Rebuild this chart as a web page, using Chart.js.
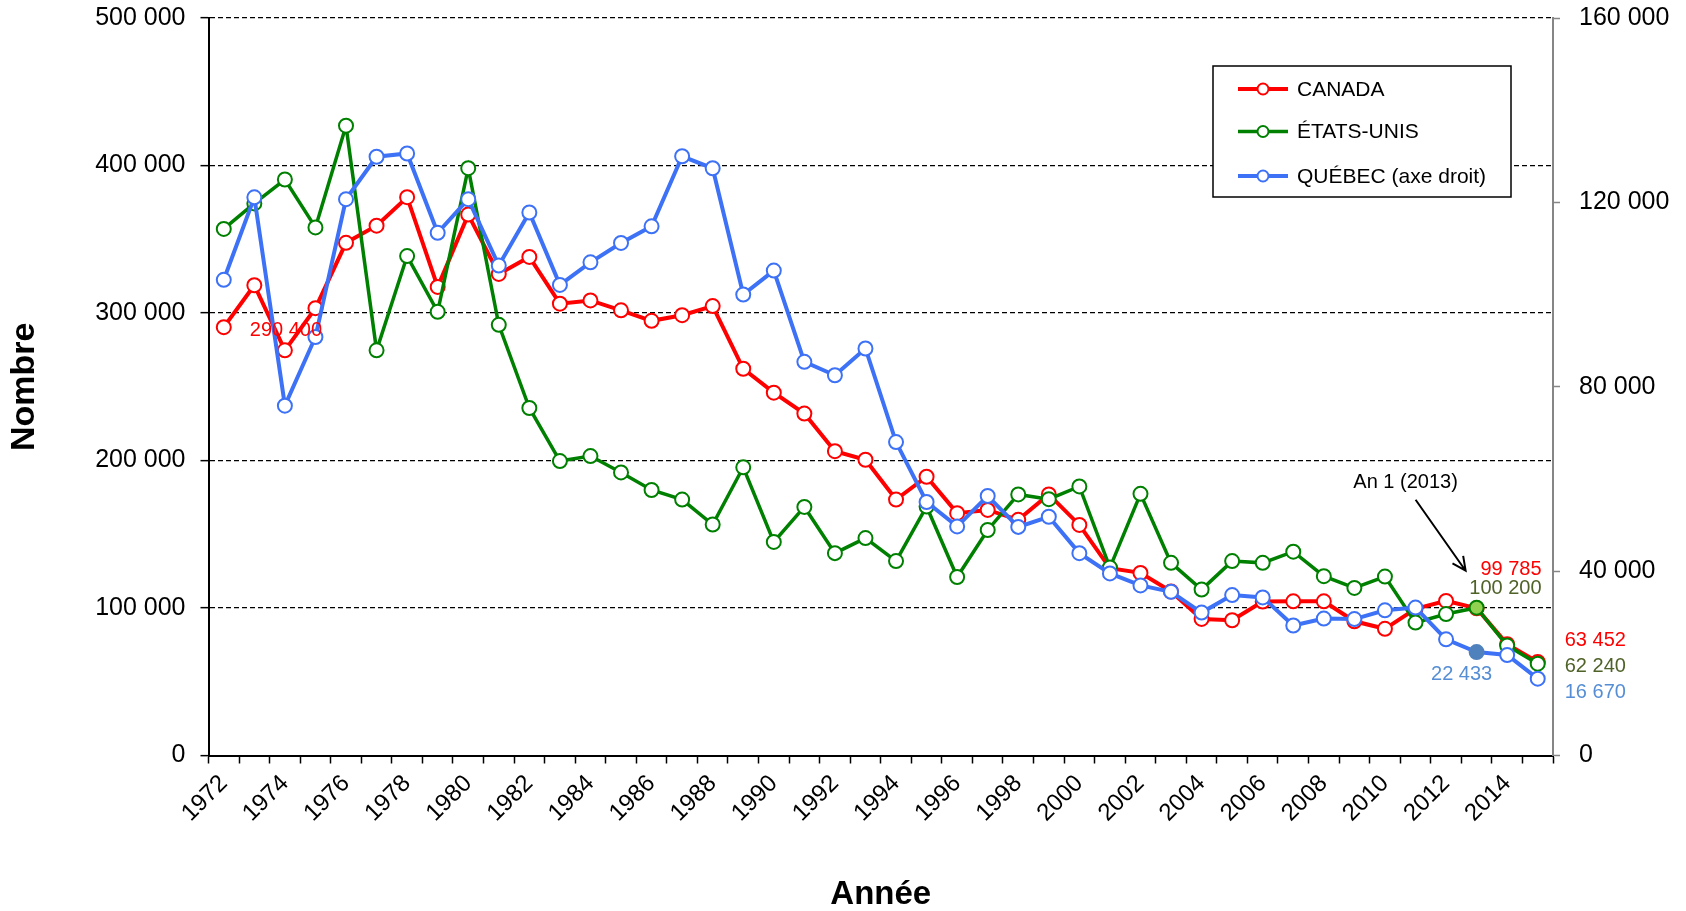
<!DOCTYPE html>
<html lang="fr">
<head>
<meta charset="utf-8">
<title>Canada, États-Unis, Québec</title>
<script src="https://cdn.jsdelivr.net/npm/chart.js@4.4.1/dist/chart.umd.min.js"></script>
<style>
  html, body { margin: 0; padding: 0; background: #fff; }
  #wrap { width: 1686px; height: 911px; position: relative; }
</style>
</head>
<body>
<div id="wrap"><canvas id="myChart"></canvas></div>
<script>
const years = ['1972','1973','1974','1975','1976','1977','1978','1979','1980','1981',
  '1982','1983','1984','1985','1986','1987','1988','1989','1990','1991',
  '1992','1993','1994','1995','1996','1997','1998','1999','2000','2001',
  '2002','2003','2004','2005','2006','2007','2008','2009','2010','2011',
  '2012','2013','2014','2015'];

const canada = [290400, 318800, 274700, 303300, 347600, 359200, 378500, 317700, 366700, 326500,
  338000, 306300, 308500, 301800, 294700, 298500, 304700, 262200, 246000, 231800,
  206300, 200500, 173500, 189000, 164300, 166500, 159800, 177000, 156300, 127000,
  123800, 111200, 92600, 91700, 104400, 104500, 104500, 91000, 85900, 99500,
  104800, 99785, 75500, 63452];

const etatsUnis = [357000, 374300, 390500, 358000, 427000, 274700, 338600, 300800, 398200, 292000,
  235600, 199600, 203000, 191900, 180000, 173500, 156600, 195400, 144800, 168500,
  137200, 147400, 131800, 168800, 121000, 152900, 177000, 173800, 182400, 127400,
  177400, 130600, 112500, 131800, 130600, 138200, 121600, 113600, 121300, 90100,
  95900, 100200, 74500, 62240];

// axe droit
const quebec = [103200, 121100, 75900, 90800, 120700, 129900, 130600, 113400, 120700, 106300,
  117800, 102100, 107000, 111200, 114800, 130000, 127400, 100000, 105200, 85400,
  82500, 88300, 68000, 55000, 49700, 56300, 49600, 51800, 43900, 39500,
  36900, 35500, 31000, 34800, 34300, 28200, 29700, 29600, 31500, 32100,
  25200, 22433, 21800, 16670];

const leftMax = 500000, leftStep = 100000;
const rightMax = 160000, rightStep = 40000;
const highlightYear = '2013';

const FONT = '"Liberation Sans", Arial, sans-serif';
const RED = '#ff0000', GREEN = '#008000', BLUE = '#3d72f7';
const OLIVE = '#4f6228', STEEL = '#558ed5';

Chart.defaults.font.family = FONT;
Chart.defaults.color = '#000';

const i13 = years.indexOf(highlightYear);
function fmt(v) {
  return String(Math.round(v)).replace(/\B(?=(\d{3})+(?!\d))/g, ' ');
}
function perPoint(normal, special) {
  return years.map((y, i) => i === i13 ? special : normal);
}

// legende + etiquettes + fleche
const decor = {
  id: 'decor',
  afterDraw(chart) {
    const ctx = chart.ctx;
    const a = chart.chartArea;
    const x = chart.scales.x, y = chart.scales.y, y2 = chart.scales.y2;
    const last = years.length - 1;
    const x0 = x.getPixelForValue(0);
    const x13 = x.getPixelForValue(i13);
    const xEnd = x.getPixelForValue(last);
    const yUs13 = y.getPixelForValue(etatsUnis[i13]);

    ctx.save();
    ctx.font = '20px ' + FONT;
    ctx.textBaseline = 'middle';
    const put = (txt, px, py, color, align) => {
      ctx.fillStyle = color;
      ctx.textAlign = align || 'left';
      ctx.fillText(txt, px, py);
    };

    put(fmt(canada[0]), x0 + 26, y.getPixelForValue(canada[0]) + 3, RED);

    put(fmt(canada[i13]), x13 + 65, yUs13 - 38, RED, 'right');
    put(fmt(etatsUnis[i13]), x13 + 65, yUs13 - 19, OLIVE, 'right');
    put(fmt(quebec[i13]), x13 - 15, y2.getPixelForValue(quebec[i13]) + 22, STEEL, 'center');

    const yc = y.getPixelForValue(canada[last]);
    put(fmt(canada[last]), xEnd + 27, yc - 21, RED);
    put(fmt(etatsUnis[last]), xEnd + 27, yc + 5, OLIVE);
    put(fmt(quebec[last]), xEnd + 27, yc + 31, STEEL);

    put('An 1 (' + highlightYear + ')', x13 - 71, yUs13 - 125, '#000', 'center');

    // fleche
    const ax = x13 - 61, ay = yUs13 - 108, bx = x13 - 11, by = yUs13 - 37;
    const ang = Math.atan2(by - ay, bx - ax);
    ctx.strokeStyle = '#000';
    ctx.lineWidth = 2;
    ctx.beginPath();
    ctx.moveTo(ax, ay);
    ctx.lineTo(bx, by);
    ctx.moveTo(bx - 15 * Math.cos(ang - 0.45), by - 15 * Math.sin(ang - 0.45));
    ctx.lineTo(bx, by);
    ctx.lineTo(bx - 15 * Math.cos(ang + 0.45), by - 15 * Math.sin(ang + 0.45));
    ctx.stroke();

    // legende
    ctx.font = '21px ' + FONT;
    const lx = a.right - 340, ly = a.top + 48, lw = 298, lh = 131;
    ctx.fillStyle = '#fff';
    ctx.fillRect(lx, ly, lw, lh);
    ctx.strokeStyle = '#000';
    ctx.lineWidth = 1.5;
    ctx.strokeRect(lx, ly, lw, lh);
    const rows = [23, 65.5, 110];
    chart.data.datasets.forEach((ds, k) => {
      const ry = ly + rows[k];
      ctx.strokeStyle = ds.borderColor;
      ctx.lineWidth = ds.borderWidth;
      ctx.beginPath();
      ctx.moveTo(lx + 25, ry);
      ctx.lineTo(lx + 75, ry);
      ctx.stroke();
      ctx.fillStyle = '#fff';
      ctx.lineWidth = 2;
      ctx.beginPath();
      ctx.arc(lx + 50, ry, 5.5, 0, Math.PI * 2);
      ctx.fill();
      ctx.stroke();
      put(ds.label, lx + 84, ry + 1, '#000');
    });
    ctx.restore();
  }
};

const ctx = document.getElementById('myChart').getContext('2d');
const chart = new Chart(ctx, {
  type: 'line',
  data: {
    labels: years,
    datasets: [
      {
        label: 'CANADA',
        data: canada,
        yAxisID: 'y',
        borderColor: RED,
        borderWidth: 4,
        pointRadius: 7,
        pointBorderWidth: 2,
        pointBorderColor: RED,
        pointBackgroundColor: '#fff',
        order: 3
      },
      {
        label: 'ÉTATS-UNIS',
        data: etatsUnis,
        yAxisID: 'y',
        borderColor: GREEN,
        borderWidth: 3.5,
        pointRadius: 7,
        pointBorderWidth: 2,
        pointBorderColor: GREEN,
        pointBackgroundColor: perPoint('#fff', '#92d050'),
        order: 2
      },
      {
        label: 'QUÉBEC (axe droit)',
        data: quebec,
        yAxisID: 'y2',
        borderColor: BLUE,
        borderWidth: 4,
        pointRadius: 7,
        pointBorderWidth: 2,
        pointBorderColor: perPoint(BLUE, '#4f81bd'),
        pointBackgroundColor: perPoint('#fff', '#4f81bd'),
        order: 1
      }
    ]
  },
  options: {
    responsive: true,
    maintainAspectRatio: false,
    animation: false,
    layout: { padding: { top: 18, left: 0, right: 0, bottom: 0 } },
    plugins: {
      legend: { display: false },
      tooltip: { enabled: false }
    },
    scales: {
      x: {
        type: 'category',
        offset: true,
        grid: { offset: true, drawOnChartArea: false, drawTicks: true, tickLength: 8, tickColor: '#000', tickWidth: 1.5 },
        border: { color: '#000', width: 2 },
        ticks: {
          autoSkip: false,
          minRotation: 45,
          maxRotation: 45,
          padding: 6,
          font: { size: 24 },
          callback: (v, i) => i % 2 === 0 ? years[i] : ''
        },
        title: { display: true, text: 'Année', font: { size: 33, weight: 'bold', lineHeight: 1 }, padding: { top: 0, bottom: 0 } },
        afterFit: s => { s.height = 155.5; }
      },
      y: {
        position: 'left',
        min: 0,
        max: leftMax,
        ticks: { stepSize: leftStep, padding: 15, font: { size: 25 }, callback: v => fmt(v) },
        grid: { color: '#000', lineWidth: 1.3, tickLength: 8, tickColor: '#000', tickWidth: 1.5 },
        border: { dash: [5, 3], color: '#000', width: 2 },
        title: { display: true, text: 'Nombre', font: { size: 34, weight: 'bold', lineHeight: 1 }, padding: { top: 8, bottom: 0 } },
        afterFit: s => { s.width = 208.5; s.paddingTop = 0; s.paddingBottom = 0; }
      },
      y2: {
        position: 'right',
        min: 0,
        max: rightMax,
        ticks: { stepSize: rightStep, padding: 19, font: { size: 25 }, callback: v => fmt(v) },
        grid: { drawOnChartArea: false, tickLength: 7, tickColor: '#868686', tickWidth: 1.5 },
        border: { color: '#868686', width: 2 },
        afterFit: s => { s.width = 133; s.paddingTop = 0; s.paddingBottom = 0; }
      }
    }
  },
  plugins: [decor]
});
</script>
</body>
</html>
